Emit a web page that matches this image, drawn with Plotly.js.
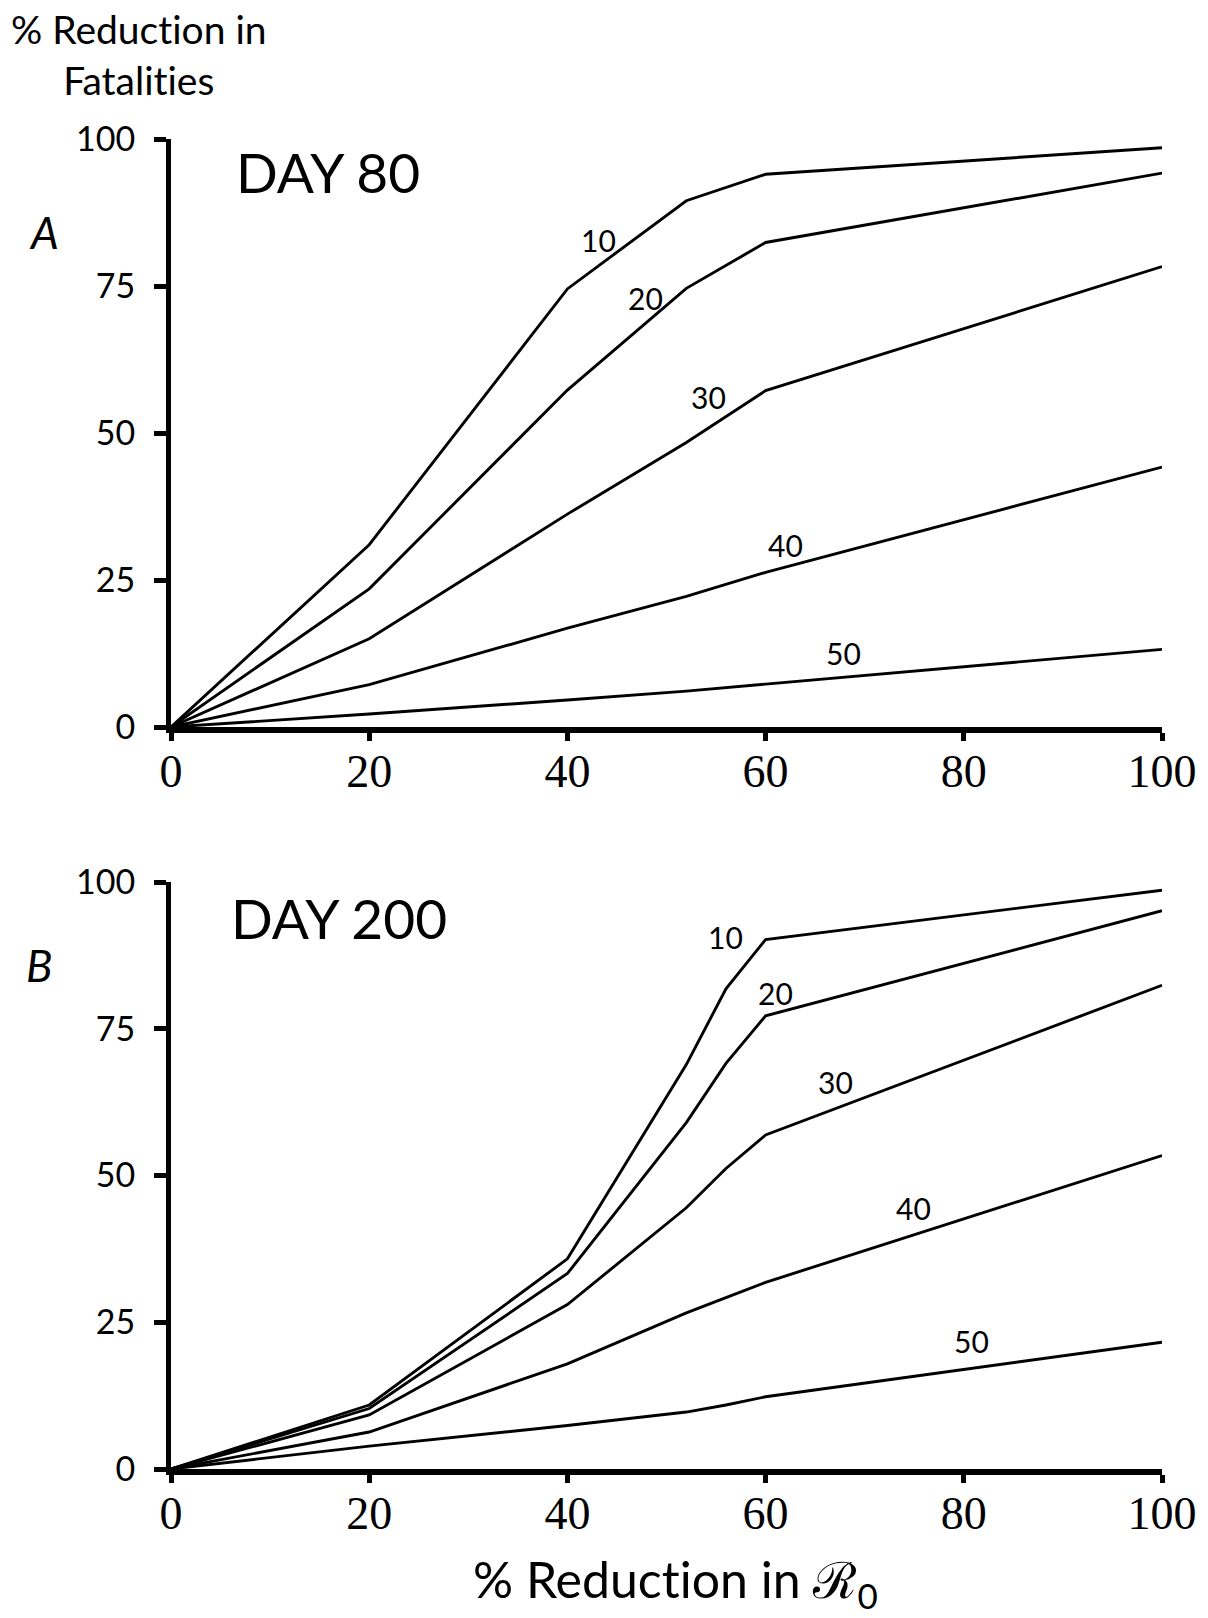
<!DOCTYPE html>
<html>
<head>
<meta charset="utf-8">
<script src="https://cdn.plot.ly/plotly-3.0.1.min.js"></script>
<style>html,body{margin:0;padding:0;background:#fff;}#chart{width:1208px;height:1618px;}
svg text{font-variant-ligatures:none;font-feature-settings:"liga" 0;}</style>
</head>
<body>
<div id="chart"></div>
<script>
// ---- data ----
const seriesNames = ["10", "20", "30", "40", "50"];
const xDay80 = [0, 20, 40, 52, 60, 100];
const day80_10 = [0, 31, 74.5, 89.5, 94, 98.5];
const day80_20 = [0, 23.5, 57.3, 74.6, 82.4, 94.2];
const day80_30 = [0, 15, 36.2, 48.4, 57.2, 78.3];
const day80_40 = [0, 7.2, 16.8, 22.2, 26.3, 44.2];
const day80_50 = [0, 2.2, 4.6, 6.1, 7.3, 13.2];

const xDay200 = [0, 20, 40, 52, 56, 60, 100];
const day200_10 = [0, 10.9, 35.8, 68.9, 81.8, 90.2, 98.6];
const day200_20 = [0, 10.3, 33.3, 59.0, 69.1, 77.2, 95.1];
const day200_30 = [0, 9.2, 28.0, 44.5, 51.2, 56.9, 82.4];
const day200_40 = [0, 6.3, 17.9, 26.6, 29.2, 31.8, 53.4];
const day200_50 = [0, 3.9, 7.4, 9.7, 10.9, 12.3, 21.6];

const xTickVals = [0, 20, 40, 60, 80, 100];
const yTickVals = [0, 25, 50, 75, 100];

// ---- layout helpers ----
const W = 1208, H = 1618;
const ML = 171, MR = 46, MT = 139, MB = 149;
const PW = W - ML - MR, PH = H - MT - MB;
const px = v => (v - ML) / PW;
const py = v => (H - MB - v) / PH;

const sans = "Lato, 'Open Sans', sans-serif";
const serif = "'Liberation Serif', 'DejaVu Serif', serif";

const lineStyle = {color: "#000", width: 2.9};
const day80 = [day80_10, day80_20, day80_30, day80_40, day80_50];
const day200 = [day200_10, day200_20, day200_30, day200_40, day200_50];

const traces = [];
day80.forEach((ys, i) => traces.push({x: xDay80, y: ys, type: "scatter", mode: "lines",
  name: "Day 80 " + seriesNames[i], line: lineStyle, xaxis: "x", yaxis: "y", hoverinfo: "skip"}));
day200.forEach((ys, i) => traces.push({x: xDay200, y: ys, type: "scatter", mode: "lines",
  name: "Day 200 " + seriesNames[i], line: lineStyle, xaxis: "x2", yaxis: "y2", hoverinfo: "skip"}));

function xAxis(anchor) {
  return {anchor: anchor, domain: [0, 1], range: [0, 100], tickvals: xTickVals, ticktext: xTickVals.map(String),
    showline: true, linewidth: 5.5, linecolor: "#000", ticks: "outside", ticklen: 8, tickwidth: 5, tickcolor: "#000",
    showgrid: false, zeroline: false, fixedrange: true, ticklabelstandoff: -9,
    tickfont: {family: serif, size: 46, color: "#000"}};
}
function yAxis(anchor, domain) {
  return {anchor: anchor, domain: domain, range: [0, 100], tickvals: yTickVals, ticktext: yTickVals.map(String),
    showline: true, linewidth: 5, linecolor: "#000", ticks: "outside", ticklen: 12, tickwidth: 5, tickcolor: "#000",
    showgrid: false, zeroline: false, fixedrange: true, ticklabelstandoff: 12,
    tickfont: {family: sans, size: 34, color: "#000"}};
}

// label positions (in data units of each panel)
const labels80 = [[43.1, 82.8], [47.9, 73.0], [54.2, 56.2], [62.0, 31.0], [67.9, 12.6]];
const labels200 = [[56.0, 90.6], [61.0, 81.1], [67.1, 66.0], [74.9, 44.4], [80.8, 21.8]];

const annotations = [];
labels80.forEach((p, i) => annotations.push({xref: "x", yref: "y", x: p[0], y: p[1], text: seriesNames[i],
  showarrow: false, font: {family: sans, size: 30, color: "#000"}}));
labels200.forEach((p, i) => annotations.push({xref: "x2", yref: "y2", x: p[0], y: p[1], text: seriesNames[i],
  showarrow: false, font: {family: sans, size: 30, color: "#000"}}));

annotations.push(
  {xref: "paper", yref: "paper", x: px(139), y: py(4), xanchor: "center", yanchor: "top",
   text: "% Reduction in<br>Fatalities", showarrow: false, align: "center",
   font: {family: sans, size: 39, color: "#000"}},
  {xref: "paper", yref: "paper", x: px(234), y: py(172), xanchor: "left", yanchor: "middle",
   text: "DAY 80", showarrow: false, font: {family: sans, size: 55, color: "#000"}},
  {xref: "paper", yref: "paper", x: px(44), y: py(232), xanchor: "center", yanchor: "middle",
   text: "<i>A</i>", showarrow: false, font: {family: sans, size: 44, color: "#000"}},
  {xref: "paper", yref: "paper", x: px(229), y: py(918), xanchor: "left", yanchor: "middle",
   text: "DAY 200", showarrow: false, font: {family: sans, size: 55, color: "#000"}},
  {xref: "paper", yref: "paper", x: px(39), y: py(965), xanchor: "center", yanchor: "middle",
   text: "<i>B</i>", showarrow: false, font: {family: sans, size: 44, color: "#000"}},
  {xref: "paper", yref: "paper", x: px(675), y: py(1582), xanchor: "center", yanchor: "middle",
   text: "% Reduction in ℛ<sub>0</sub>", showarrow: false, font: {family: sans, size: 50, color: "#000"}}
);

const layout = {
  width: W, height: H,
  margin: {l: ML, r: MR, t: MT, b: MB, pad: 0},
  paper_bgcolor: "#fff", plot_bgcolor: "#fff",
  showlegend: false,
  xaxis: xAxis("y"),
  yaxis: yAxis("x", [py(727), 1]),
  xaxis2: xAxis("y2"),
  yaxis2: yAxis("x2", [0, py(882)]),
  annotations: annotations
};

Plotly.newPlot("chart", traces, layout, {staticPlot: true, displayModeBar: false});
</script>
</body>
</html>
